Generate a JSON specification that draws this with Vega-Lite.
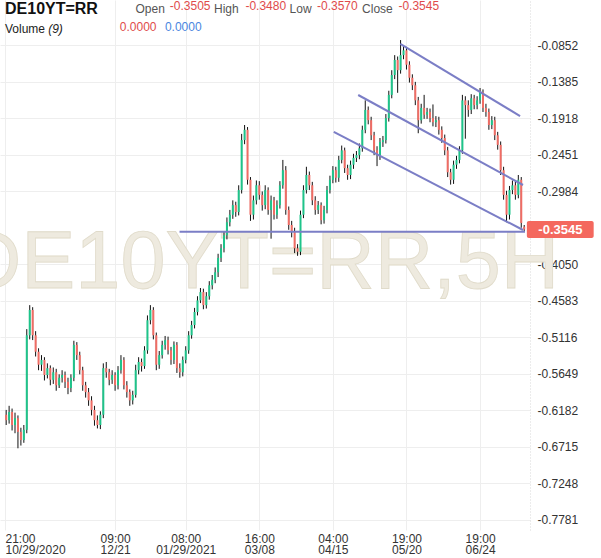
{
"$schema": "https://vega.github.io/schema/vega-lite/v6.json",
"width": 530, "height": 530,
"autosize": {"type": "none"},
"padding": {"left": 0, "top": 0, "right": 71, "bottom": 28},
"background": "white",
"config": {"view": {"stroke": null}, "font": "Liberation Sans"},
"data": {"values": [{}]},
"datasets": {
"candles": [
{"n":0,"o":-0.625,"h":-0.618,"l":-0.640,"c":-0.633},
{"n":1,"o":-0.633,"h":-0.612,"l":-0.638,"c":-0.621},
{"n":2,"o":-0.621,"h":-0.616,"l":-0.648,"c":-0.640},
{"n":3,"o":-0.640,"h":-0.622,"l":-0.652,"c":-0.630},
{"n":4,"o":-0.630,"h":-0.626,"l":-0.674,"c":-0.650},
{"n":5,"o":-0.650,"h":-0.644,"l":-0.670,"c":-0.662},
{"n":6,"o":-0.662,"h":-0.640,"l":-0.666,"c":-0.647},
{"n":7,"o":-0.647,"h":-0.500,"l":-0.652,"c":-0.509},
{"n":8,"o":-0.509,"h":-0.465,"l":-0.515,"c":-0.472},
{"n":9,"o":-0.472,"h":-0.468,"l":-0.516,"c":-0.509},
{"n":10,"o":-0.509,"h":-0.503,"l":-0.540,"c":-0.533},
{"n":11,"o":-0.533,"h":-0.528,"l":-0.560,"c":-0.552},
{"n":12,"o":-0.552,"h":-0.538,"l":-0.561,"c":-0.545},
{"n":13,"o":-0.545,"h":-0.541,"l":-0.575,"c":-0.567},
{"n":14,"o":-0.567,"h":-0.550,"l":-0.572,"c":-0.557},
{"n":15,"o":-0.557,"h":-0.553,"l":-0.582,"c":-0.574},
{"n":16,"o":-0.574,"h":-0.556,"l":-0.580,"c":-0.563},
{"n":17,"o":-0.563,"h":-0.558,"l":-0.590,"c":-0.582},
{"n":18,"o":-0.582,"h":-0.566,"l":-0.586,"c":-0.571},
{"n":19,"o":-0.571,"h":-0.560,"l":-0.578,"c":-0.567},
{"n":20,"o":-0.567,"h":-0.562,"l":-0.586,"c":-0.577},
{"n":21,"o":-0.577,"h":-0.571,"l":-0.595,"c":-0.586},
{"n":22,"o":-0.586,"h":-0.566,"l":-0.592,"c":-0.571},
{"n":23,"o":-0.571,"h":-0.517,"l":-0.576,"c":-0.523},
{"n":24,"o":-0.523,"h":-0.519,"l":-0.545,"c":-0.538},
{"n":25,"o":-0.538,"h":-0.533,"l":-0.566,"c":-0.560},
{"n":26,"o":-0.560,"h":-0.555,"l":-0.590,"c":-0.582},
{"n":27,"o":-0.582,"h":-0.577,"l":-0.600,"c":-0.592},
{"n":28,"o":-0.592,"h":-0.586,"l":-0.612,"c":-0.604},
{"n":29,"o":-0.604,"h":-0.598,"l":-0.626,"c":-0.618},
{"n":30,"o":-0.618,"h":-0.612,"l":-0.641,"c":-0.633},
{"n":31,"o":-0.633,"h":-0.626,"l":-0.645,"c":-0.640},
{"n":32,"o":-0.640,"h":-0.620,"l":-0.646,"c":-0.625},
{"n":33,"o":-0.625,"h":-0.550,"l":-0.630,"c":-0.557},
{"n":34,"o":-0.557,"h":-0.548,"l":-0.571,"c":-0.563},
{"n":35,"o":-0.563,"h":-0.558,"l":-0.582,"c":-0.574},
{"n":36,"o":-0.574,"h":-0.560,"l":-0.580,"c":-0.567},
{"n":37,"o":-0.567,"h":-0.563,"l":-0.590,"c":-0.582},
{"n":38,"o":-0.582,"h":-0.554,"l":-0.588,"c":-0.560},
{"n":39,"o":-0.560,"h":-0.538,"l":-0.565,"c":-0.545},
{"n":40,"o":-0.545,"h":-0.541,"l":-0.588,"c":-0.582},
{"n":41,"o":-0.582,"h":-0.576,"l":-0.600,"c":-0.592},
{"n":42,"o":-0.592,"h":-0.588,"l":-0.612,"c":-0.604},
{"n":43,"o":-0.604,"h":-0.590,"l":-0.610,"c":-0.596},
{"n":44,"o":-0.596,"h":-0.552,"l":-0.600,"c":-0.560},
{"n":45,"o":-0.560,"h":-0.541,"l":-0.566,"c":-0.548},
{"n":46,"o":-0.548,"h":-0.543,"l":-0.562,"c":-0.554},
{"n":47,"o":-0.554,"h":-0.525,"l":-0.558,"c":-0.531},
{"n":48,"o":-0.531,"h":-0.480,"l":-0.536,"c":-0.487},
{"n":49,"o":-0.487,"h":-0.465,"l":-0.493,"c":-0.472},
{"n":50,"o":-0.472,"h":-0.468,"l":-0.515,"c":-0.509},
{"n":51,"o":-0.509,"h":-0.505,"l":-0.560,"c":-0.552},
{"n":52,"o":-0.552,"h":-0.532,"l":-0.558,"c":-0.538},
{"n":53,"o":-0.538,"h":-0.517,"l":-0.543,"c":-0.523},
{"n":54,"o":-0.523,"h":-0.510,"l":-0.530,"c":-0.516},
{"n":55,"o":-0.516,"h":-0.511,"l":-0.537,"c":-0.531},
{"n":56,"o":-0.531,"h":-0.526,"l":-0.552,"c":-0.545},
{"n":57,"o":-0.545,"h":-0.518,"l":-0.551,"c":-0.523},
{"n":58,"o":-0.523,"h":-0.519,"l":-0.564,"c":-0.557},
{"n":59,"o":-0.557,"h":-0.550,"l":-0.571,"c":-0.563},
{"n":60,"o":-0.563,"h":-0.540,"l":-0.569,"c":-0.545},
{"n":61,"o":-0.545,"h":-0.525,"l":-0.550,"c":-0.531},
{"n":62,"o":-0.531,"h":-0.503,"l":-0.536,"c":-0.509},
{"n":63,"o":-0.509,"h":-0.488,"l":-0.514,"c":-0.494},
{"n":64,"o":-0.494,"h":-0.469,"l":-0.499,"c":-0.475},
{"n":65,"o":-0.475,"h":-0.452,"l":-0.480,"c":-0.458},
{"n":66,"o":-0.458,"h":-0.440,"l":-0.462,"c":-0.446},
{"n":67,"o":-0.446,"h":-0.441,"l":-0.471,"c":-0.465},
{"n":68,"o":-0.465,"h":-0.446,"l":-0.470,"c":-0.452},
{"n":69,"o":-0.452,"h":-0.430,"l":-0.457,"c":-0.436},
{"n":70,"o":-0.436,"h":-0.421,"l":-0.442,"c":-0.428},
{"n":71,"o":-0.428,"h":-0.410,"l":-0.433,"c":-0.417},
{"n":72,"o":-0.417,"h":-0.390,"l":-0.424,"c":-0.396},
{"n":73,"o":-0.396,"h":-0.376,"l":-0.402,"c":-0.382},
{"n":74,"o":-0.382,"h":-0.357,"l":-0.388,"c":-0.363},
{"n":75,"o":-0.363,"h":-0.337,"l":-0.369,"c":-0.344},
{"n":76,"o":-0.344,"h":-0.326,"l":-0.350,"c":-0.333},
{"n":77,"o":-0.333,"h":-0.312,"l":-0.339,"c":-0.319},
{"n":78,"o":-0.319,"h":-0.314,"l":-0.336,"c":-0.329},
{"n":79,"o":-0.329,"h":-0.290,"l":-0.334,"c":-0.297},
{"n":80,"o":-0.297,"h":-0.215,"l":-0.302,"c":-0.224},
{"n":81,"o":-0.224,"h":-0.202,"l":-0.230,"c":-0.209},
{"n":82,"o":-0.209,"h":-0.205,"l":-0.289,"c":-0.282},
{"n":83,"o":-0.282,"h":-0.278,"l":-0.342,"c":-0.333},
{"n":84,"o":-0.333,"h":-0.305,"l":-0.340,"c":-0.312},
{"n":85,"o":-0.312,"h":-0.283,"l":-0.318,"c":-0.290},
{"n":86,"o":-0.290,"h":-0.284,"l":-0.311,"c":-0.304},
{"n":87,"o":-0.304,"h":-0.299,"l":-0.327,"c":-0.319},
{"n":88,"o":-0.319,"h":-0.290,"l":-0.325,"c":-0.297},
{"n":89,"o":-0.297,"h":-0.293,"l":-0.333,"c":-0.326},
{"n":90,"o":-0.326,"h":-0.305,"l":-0.368,"c":-0.312},
{"n":91,"o":-0.312,"h":-0.307,"l":-0.340,"c":-0.333},
{"n":92,"o":-0.333,"h":-0.312,"l":-0.339,"c":-0.319},
{"n":93,"o":-0.319,"h":-0.284,"l":-0.324,"c":-0.290},
{"n":94,"o":-0.290,"h":-0.253,"l":-0.295,"c":-0.268},
{"n":95,"o":-0.268,"h":-0.262,"l":-0.333,"c":-0.326},
{"n":96,"o":-0.326,"h":-0.321,"l":-0.355,"c":-0.348},
{"n":97,"o":-0.348,"h":-0.342,"l":-0.366,"c":-0.358},
{"n":98,"o":-0.358,"h":-0.352,"l":-0.389,"c":-0.382},
{"n":99,"o":-0.382,"h":-0.376,"l":-0.393,"c":-0.387},
{"n":100,"o":-0.387,"h":-0.327,"l":-0.392,"c":-0.333},
{"n":101,"o":-0.333,"h":-0.290,"l":-0.338,"c":-0.297},
{"n":102,"o":-0.297,"h":-0.263,"l":-0.302,"c":-0.275},
{"n":103,"o":-0.275,"h":-0.270,"l":-0.297,"c":-0.290},
{"n":104,"o":-0.290,"h":-0.285,"l":-0.319,"c":-0.312},
{"n":105,"o":-0.312,"h":-0.306,"l":-0.333,"c":-0.326},
{"n":106,"o":-0.326,"h":-0.313,"l":-0.332,"c":-0.319},
{"n":107,"o":-0.319,"h":-0.315,"l":-0.347,"c":-0.341},
{"n":108,"o":-0.341,"h":-0.320,"l":-0.346,"c":-0.326},
{"n":109,"o":-0.326,"h":-0.291,"l":-0.331,"c":-0.297},
{"n":110,"o":-0.297,"h":-0.276,"l":-0.302,"c":-0.282},
{"n":111,"o":-0.282,"h":-0.262,"l":-0.287,"c":-0.268},
{"n":112,"o":-0.268,"h":-0.263,"l":-0.286,"c":-0.279},
{"n":113,"o":-0.279,"h":-0.247,"l":-0.285,"c":-0.253},
{"n":114,"o":-0.253,"h":-0.232,"l":-0.258,"c":-0.239},
{"n":115,"o":-0.239,"h":-0.235,"l":-0.272,"c":-0.265},
{"n":116,"o":-0.265,"h":-0.260,"l":-0.282,"c":-0.275},
{"n":117,"o":-0.275,"h":-0.254,"l":-0.281,"c":-0.260},
{"n":118,"o":-0.260,"h":-0.244,"l":-0.266,"c":-0.250},
{"n":119,"o":-0.250,"h":-0.240,"l":-0.256,"c":-0.246},
{"n":120,"o":-0.246,"h":-0.229,"l":-0.252,"c":-0.236},
{"n":121,"o":-0.236,"h":-0.203,"l":-0.241,"c":-0.209},
{"n":122,"o":-0.209,"h":-0.166,"l":-0.214,"c":-0.180},
{"n":123,"o":-0.180,"h":-0.175,"l":-0.201,"c":-0.195},
{"n":124,"o":-0.195,"h":-0.190,"l":-0.224,"c":-0.217},
{"n":125,"o":-0.217,"h":-0.212,"l":-0.246,"c":-0.239},
{"n":126,"o":-0.239,"h":-0.233,"l":-0.262,"c":-0.246},
{"n":127,"o":-0.246,"h":-0.221,"l":-0.253,"c":-0.227},
{"n":128,"o":-0.227,"h":-0.218,"l":-0.234,"c":-0.224},
{"n":129,"o":-0.224,"h":-0.186,"l":-0.229,"c":-0.192},
{"n":130,"o":-0.192,"h":-0.152,"l":-0.197,"c":-0.158},
{"n":131,"o":-0.158,"h":-0.122,"l":-0.163,"c":-0.129},
{"n":132,"o":-0.129,"h":-0.100,"l":-0.135,"c":-0.107},
{"n":133,"o":-0.107,"h":-0.102,"l":-0.155,"c":-0.122},
{"n":134,"o":-0.122,"h":-0.078,"l":-0.127,"c":-0.100},
{"n":135,"o":-0.100,"h":-0.086,"l":-0.106,"c":-0.093},
{"n":136,"o":-0.093,"h":-0.088,"l":-0.121,"c":-0.114},
{"n":137,"o":-0.114,"h":-0.109,"l":-0.140,"c":-0.133},
{"n":138,"o":-0.133,"h":-0.128,"l":-0.151,"c":-0.144},
{"n":139,"o":-0.144,"h":-0.139,"l":-0.173,"c":-0.166},
{"n":140,"o":-0.166,"h":-0.161,"l":-0.214,"c":-0.195},
{"n":141,"o":-0.195,"h":-0.171,"l":-0.200,"c":-0.177},
{"n":142,"o":-0.177,"h":-0.158,"l":-0.193,"c":-0.187},
{"n":143,"o":-0.187,"h":-0.177,"l":-0.193,"c":-0.183},
{"n":144,"o":-0.183,"h":-0.178,"l":-0.198,"c":-0.192},
{"n":145,"o":-0.192,"h":-0.172,"l":-0.204,"c":-0.198},
{"n":146,"o":-0.198,"h":-0.189,"l":-0.205,"c":-0.195},
{"n":147,"o":-0.195,"h":-0.190,"l":-0.216,"c":-0.209},
{"n":148,"o":-0.209,"h":-0.204,"l":-0.228,"c":-0.221},
{"n":149,"o":-0.221,"h":-0.216,"l":-0.246,"c":-0.239},
{"n":150,"o":-0.239,"h":-0.234,"l":-0.278,"c":-0.271},
{"n":151,"o":-0.271,"h":-0.266,"l":-0.289,"c":-0.282},
{"n":152,"o":-0.282,"h":-0.254,"l":-0.288,"c":-0.260},
{"n":153,"o":-0.260,"h":-0.247,"l":-0.266,"c":-0.253},
{"n":154,"o":-0.253,"h":-0.233,"l":-0.258,"c":-0.239},
{"n":155,"o":-0.239,"h":-0.158,"l":-0.244,"c":-0.166},
{"n":156,"o":-0.166,"h":-0.160,"l":-0.222,"c":-0.173},
{"n":157,"o":-0.173,"h":-0.166,"l":-0.190,"c":-0.180},
{"n":158,"o":-0.180,"h":-0.157,"l":-0.186,"c":-0.163},
{"n":159,"o":-0.163,"h":-0.158,"l":-0.179,"c":-0.173},
{"n":160,"o":-0.173,"h":-0.160,"l":-0.179,"c":-0.166},
{"n":161,"o":-0.166,"h":-0.148,"l":-0.171,"c":-0.154},
{"n":162,"o":-0.154,"h":-0.150,"l":-0.183,"c":-0.177},
{"n":163,"o":-0.177,"h":-0.171,"l":-0.190,"c":-0.183},
{"n":164,"o":-0.183,"h":-0.178,"l":-0.209,"c":-0.202},
{"n":165,"o":-0.202,"h":-0.189,"l":-0.208,"c":-0.195},
{"n":166,"o":-0.195,"h":-0.190,"l":-0.224,"c":-0.217},
{"n":167,"o":-0.217,"h":-0.212,"l":-0.238,"c":-0.231},
{"n":168,"o":-0.231,"h":-0.226,"l":-0.275,"c":-0.268},
{"n":169,"o":-0.268,"h":-0.263,"l":-0.311,"c":-0.304},
{"n":170,"o":-0.304,"h":-0.298,"l":-0.344,"c":-0.333},
{"n":171,"o":-0.333,"h":-0.291,"l":-0.340,"c":-0.297},
{"n":172,"o":-0.297,"h":-0.283,"l":-0.303,"c":-0.290},
{"n":173,"o":-0.290,"h":-0.285,"l":-0.311,"c":-0.304},
{"n":174,"o":-0.304,"h":-0.275,"l":-0.309,"c":-0.282},
{"n":175,"o":-0.282,"h":-0.278,"l":-0.352,"c":-0.345},
{"n":176,"o":-0.3505,"h":-0.348,"l":-0.357,"c":-0.3545}
],
"trend": [
{"line":"top","n":133.9,"v":-0.0837},{"line":"top","n":174.6,"v":-0.1889},
{"line":"mid","n":119.6,"v":-0.1582},{"line":"mid","n":175.6,"v":-0.2896},
{"line":"low","n":111.3,"v":-0.2122},{"line":"low","n":175.6,"v":-0.3553},
{"line":"flat","n":58.9,"v":-0.358},{"line":"flat","n":176.27,"v":-0.358}
]
},
"encoding": {
"x": {"type": "quantitative", "scale": {"domain": [-0.4, 176.27], "nice": false, "zero": false},
 "axis": {"values": [-0.4, 37, 61, 86, 111, 136, 161], "title": null, "grid": true, "gridColor": "#eeeeee", "ticks": false, "domain": false, "labelFontSize": 12, "labelColor": "#333333", "labelLineHeight": 11, "labelPadding": 3, "labelOverlap": false, "labelBound": false,
  "labelAlign": {"condition": {"test": "datum.value < 0", "value": "left"}, "value": "center"},
  "labelExpr": "datum.value < 0 ? ['21:00','10/29/2020'] : datum.value == 37 ? ['09:00','12/21'] : datum.value == 61 ? ['08:00','01/29/2021'] : datum.value == 86 ? ['16:00','03/08'] : datum.value == 111 ? ['04:00','04/15'] : datum.value == 136 ? ['19:00','05/20'] : ['19:00','06/24']"}},
"y": {"type": "quantitative", "scale": {"domain": [-0.7933, -0.0195], "nice": false, "zero": false},
 "axis": {"orient": "right", "values": [-0.0852,-0.1385,-0.1918,-0.2451,-0.2984,-0.4050,-0.4583,-0.5116,-0.5649,-0.6182,-0.6715,-0.7248,-0.7781], "title": null, "grid": true, "gridColor": "#eeeeee", "ticks": false, "domain": true, "domainColor": "#d8d8d8", "domainDash": [1,2], "labelFontSize": 12, "labelColor": "#333333", "labelPadding": 7, "labelExpr": "'-' + format(-datum.value, '.4f')"}}
},
"layer": [
{
"mark": {"type": "text", "text": "DE10YT=RR,5H", "fontSize": 81, "align": "center", "baseline": "alphabetic", "fill": "#eeeadf", "stroke": "#e0dbca", "strokeWidth": 0.8},
"encoding": {"x": {"datum": 86.6}, "y": {"datum": -0.44}}
},
{
"data": {"name": "candles"},
"mark": {"type": "rule", "color": "#111111", "strokeWidth": 1},
"encoding": {"x": {"field": "n"}, "y": {"field": "l"}, "y2": {"field": "h"}}
},
{
"data": {"name": "candles"},
"mark": {"type": "bar", "size": 2},
"encoding": {
"x": {"field": "n"}, "y": {"field": "o"}, "y2": {"field": "c"},
"color": {"condition": {"test": "datum.c > datum.o", "value": "#1ec48a"}, "value": "#f06c64"}
}
},
{
"data": {"name": "trend"},
"mark": {"type": "line", "color": "#7b7ec6", "strokeWidth": 2},
"encoding": {"x": {"field": "n"}, "y": {"field": "v"}, "detail": {"field": "line"}}
},
{
"mark": {"type": "text", "text": "DE10YT=RR", "fontSize": 16, "fontWeight": "bold", "align": "left", "baseline": "alphabetic", "color": "#111111"},
"encoding": {"x": {"datum": -0.4}, "y": {"datum": -0.0399}}
},
{
"mark": {"type": "text", "text": "Open", "fontSize": 12, "align": "left", "baseline": "alphabetic", "color": "#555555"},
"encoding": {"x": {"datum": 43.93}, "y": {"datum": -0.0385}}
},
{
"mark": {"type": "text", "text": "-0.3505", "fontSize": 12, "align": "left", "baseline": "alphabetic", "color": "#e04b4b"},
"encoding": {"x": {"datum": 55.6}, "y": {"datum": -0.0341}}
},
{
"mark": {"type": "text", "text": "High", "fontSize": 12, "align": "left", "baseline": "alphabetic", "color": "#555555"},
"encoding": {"x": {"datum": 70.6}, "y": {"datum": -0.0385}}
},
{
"mark": {"type": "text", "text": "-0.3480", "fontSize": 12, "align": "left", "baseline": "alphabetic", "color": "#e04b4b"},
"encoding": {"x": {"datum": 81.27}, "y": {"datum": -0.0341}}
},
{
"mark": {"type": "text", "text": "Low", "fontSize": 12, "align": "left", "baseline": "alphabetic", "color": "#555555"},
"encoding": {"x": {"datum": 96.27}, "y": {"datum": -0.0385}}
},
{
"mark": {"type": "text", "text": "-0.3570", "fontSize": 12, "align": "left", "baseline": "alphabetic", "color": "#e04b4b"},
"encoding": {"x": {"datum": 105.6}, "y": {"datum": -0.0341}}
},
{
"mark": {"type": "text", "text": "Close", "fontSize": 12, "align": "left", "baseline": "alphabetic", "color": "#555555"},
"encoding": {"x": {"datum": 120.93}, "y": {"datum": -0.0385}}
},
{
"mark": {"type": "text", "text": "-0.3545", "fontSize": 12, "align": "left", "baseline": "alphabetic", "color": "#e04b4b"},
"encoding": {"x": {"datum": 133.27}, "y": {"datum": -0.0341}}
},
{
"mark": {"type": "text", "text": "Volume", "fontSize": 12, "align": "left", "baseline": "alphabetic", "color": "#222222"},
"encoding": {"x": {"datum": -0.4}, "y": {"datum": -0.0677}}
},
{
"mark": {"type": "text", "text": "(9)", "fontSize": 12, "fontStyle": "italic", "align": "left", "baseline": "alphabetic", "color": "#222222"},
"encoding": {"x": {"datum": 14.27}, "y": {"datum": -0.0677}}
},
{
"mark": {"type": "text", "text": "0.0000", "fontSize": 12, "align": "left", "baseline": "alphabetic", "color": "#e04b4b"},
"encoding": {"x": {"datum": 38.6}, "y": {"datum": -0.0648}}
},
{
"mark": {"type": "text", "text": "0.0000", "fontSize": 12, "align": "left", "baseline": "alphabetic", "color": "#4a86e0"},
"encoding": {"x": {"datum": 53.93}, "y": {"datum": -0.0648}}
},
{
"mark": {"type": "rect", "color": "#f4685e", "cornerRadius": 2},
"encoding": {"x": {"datum": 176.9}, "x2": {"datum": 199.6}, "y": {"datum": -0.3422}, "y2": {"datum": -0.3670}}
},
{
"mark": {"type": "text", "text": "-0.3545", "fontSize": 13, "fontWeight": "bold", "align": "center", "baseline": "middle", "color": "#ffffff"},
"encoding": {"x": {"datum": 188.3}, "y": {"datum": -0.3546}}
}
]
}
